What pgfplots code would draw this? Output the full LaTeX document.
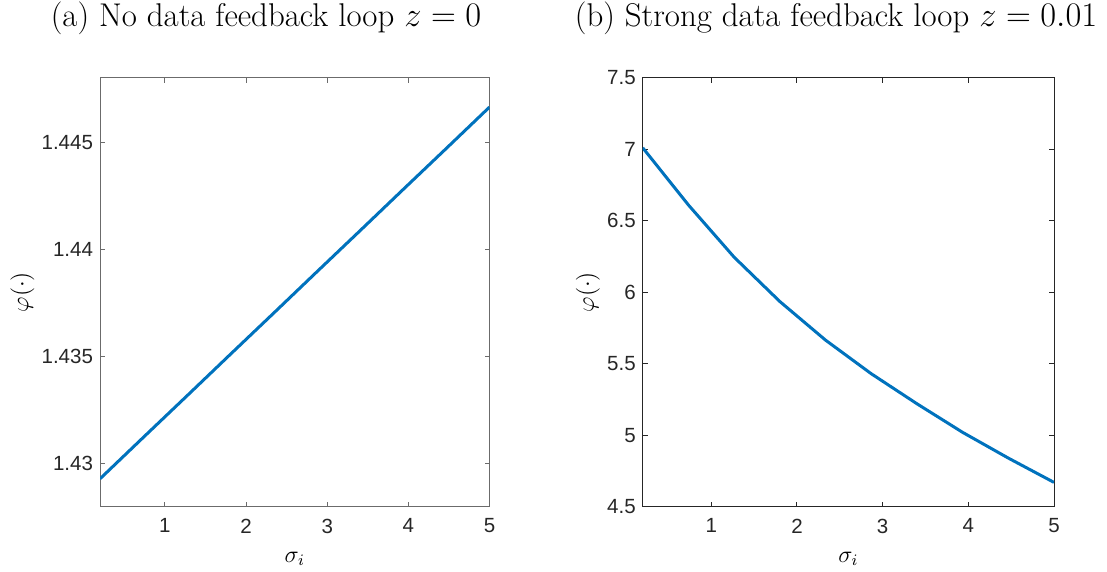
\documentclass[border=0pt]{standalone}
\usepackage{fontspec}
\usepackage{pgfplots}
\pgfplotsset{compat=1.18}
\newfontfamily\ticksf{Liberation Sans}
\definecolor{mblue}{rgb}{0,0.447,0.741}
\definecolor{maxis}{rgb}{0.15,0.15,0.15}
\definecolor{maxisl}{rgb}{0.42,0.42,0.42}
\begin{document}
\begin{tikzpicture}[x=1bp,y=1bp]
\useasboundingbox (0,0) rectangle (553.5,285.5);
\pgfplotsset{
  mstyle/.style={
    scale only axis, anchor=south west, height=214.5bp,
    xmin=0.2, xmax=5, xtick={1,2,3,4,5}, xticklabels={1,2,3,4,5},
    tick pos=both, ticklabel pos=left, tick align=inside, major tick length=2.5bp,
    axis line style={maxis, line width=0.5bp},
    every tick/.style={maxis, line width=0.5bp},
    tick label style={font=\ticksf\fontsize{10.3}{12}\selectfont, text=maxis},
    xticklabel style={yshift=-2.5bp},
    label style={font=\fontsize{12}{14}\selectfont},
    xlabel={$\sigma_i$}, ylabel={$\varphi(\cdot)$},
    xlabel style={at={(axis description cs:0.5,0)}, anchor=center, yshift=-26bp},
  }
}
\begin{axis}[mstyle, at={(50bp,32.15bp)}, width=194.75bp,
  axis line style={maxisl, line width=0.5bp},
  every tick/.style={maxisl, line width=0.5bp},
  ymin=1.428, ymax=1.448,
  ytick={1.43,1.435,1.44,1.445}, yticklabels={1.43,1.435,1.44,1.445},
  ylabel style={at={(axis description cs:0,0.5)}, anchor=center, yshift=38.75bp}]
\addplot[mblue, line width=1.5bp] coordinates {
(0.2,1.4293) (0.7333,1.43123) (1.2667,1.43315) (1.8,1.43508) (2.3333,1.43700)
(2.8667,1.43893) (3.4,1.44085) (3.9333,1.44278) (4.4667,1.44470) (5,1.44663)};
\end{axis}
\begin{axis}[mstyle, at={(321.35bp,32.15bp)}, width=205.65bp,
  ymin=4.5, ymax=7.5,
  ytick={4.5,5,5.5,6,6.5,7,7.5}, yticklabels={4.5,5,5.5,6,6.5,7,7.5},
  ylabel style={at={(axis description cs:0,0.5)}, anchor=center, yshift=27.4bp}]
\addplot[mblue, line width=1.5bp] coordinates {
(0.2,7.01) (0.7333,6.61) (1.2667,6.245) (1.8,5.935) (2.3333,5.665)
(2.8667,5.43) (3.4,5.22) (3.9333,5.02) (4.4667,4.84) (5,4.67)};
\end{axis}
\node[font=\fontsize{16.5}{18}\selectfont] at (133,276.5) {(a) No data feedback loop $z=0$};
\node[font=\fontsize{16.5}{18}\selectfont] at (418,276.5) {(b) Strong data feedback loop $z=0.01$};
\end{tikzpicture}
\end{document}
